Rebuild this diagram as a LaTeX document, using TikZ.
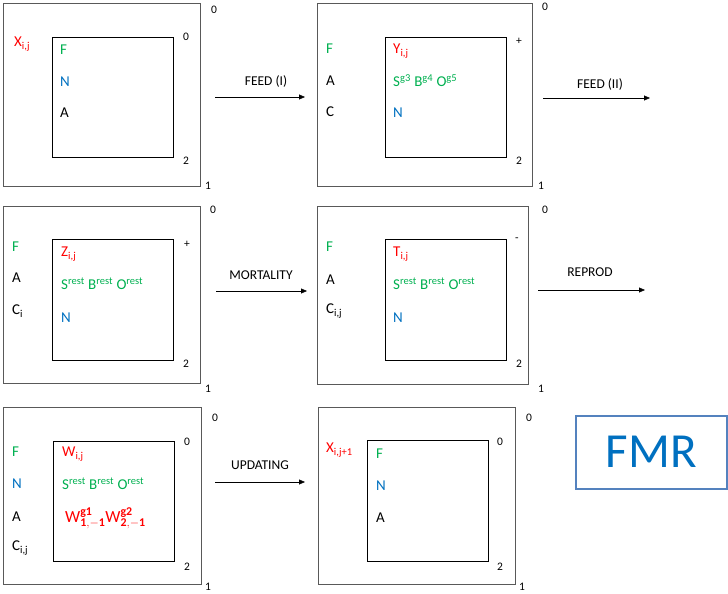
\documentclass[tikz,border=0pt]{standalone}
\usepackage{fontspec}
\setmainfont{Carlito}
\usepackage{xcolor}
\usetikzlibrary{positioning,arrows.meta}

\definecolor{fred}{HTML}{FF0000}
\definecolor{fgreen}{HTML}{00B050}
\definecolor{fblue}{HTML}{0070C0}
\definecolor{fmrline}{RGB}{84,130,190}

\begin{document}
\begin{tikzpicture}[
  x=1pt, y=-1pt,
  >={Triangle[length=6pt,width=5pt]},
  outerbox/.style={rectangle, draw=black!65, line width=1.2pt, anchor=north west, inner sep=0pt},
  innerbox/.style={rectangle, draw=black, line width=0.9pt, anchor=north west, inner sep=0pt},
  txt/.style={anchor=west, inner sep=0pt, font=\fontsize{15}{17}\selectfont},
  num/.style={anchor=center, inner sep=0pt, font=\fontsize{11.5}{13}\selectfont},
  lbl/.style={anchor=center, inner sep=0pt, font=\fontsize{13.5}{15}\selectfont},
]
\useasboundingbox (0,0) rectangle (728,594);

% row 1
\node[outerbox, minimum width=197, minimum height=183] (o1) at (3,3) {};
\node[innerbox, minimum width=121, minimum height=120] (i1) at (52,37) {};
\node[num] (o1t) at (214,10) {0};
\node[num] (i1t) at (186,37) {0};
\node[num] (i1b) at (186,161) {2};
\node[num] (o1b) at (208,186) {1};
\node[txt, text=fred] (x1) at (14,44) {X\textsubscript{i,j}};
\node[txt, text=fgreen] (f1) at (60,50) {F};
\node[txt, text=fblue] (n1) at (60,82) {N};
\node[txt] (a1) at (60,113) {A};

\node[outerbox, minimum width=215, minimum height=183] (o2) at (317,3) {};
\node[innerbox, minimum width=121, minimum height=120] (i2) at (385,37) {};
\node[num] (o2t) at (545,7) {0};
\node[num] (i2t) at (519,41) {+};
\node[num] (i2b) at (519,161) {2};
\node[num] (o2b) at (541,186) {1};
\node[txt, text=fgreen] (f2) at (326,49) {F};
\node[txt] (a2) at (326,81) {A};
\node[txt] (c2) at (326,112) {C};
\node[txt, text=fred] (y2) at (393,51) {Y\textsubscript{i,j}};
\node[txt, text=fgreen] (s2) at (393,81) {S\textsuperscript{g3} B\textsuperscript{g4} O\textsuperscript{g5}};
\node[txt, text=fblue] (n2) at (393,113) {N};

% row 2
\node[outerbox, minimum width=197, minimum height=177] (o3) at (3,206) {};
\node[innerbox, minimum width=121, minimum height=121] (i3) at (52,239) {};
\node[num] (o3t) at (213,210) {0};
\node[num] (i3t) at (187,244) {+};
\node[num] (i3b) at (186,364) {2};
\node[num] (o3b) at (208,389) {1};
\node[txt, text=fgreen] (f3) at (12,247) {F};
\node[txt] (a3) at (12,278) {A};
\node[txt] (c3) at (12,311) {C\textsubscript{i}};
\node[txt, text=fred] (z3) at (61,254) {Z\textsubscript{i,j}};
\node[txt, text=fgreen] (s3) at (61,284) {S\textsuperscript{rest} B\textsuperscript{rest} O\textsuperscript{rest}};
\node[txt, text=fblue] (n3) at (61,318) {N};

\node[outerbox, minimum width=211, minimum height=178] (o4) at (317,206) {};
\node[innerbox, minimum width=121, minimum height=121] (i4) at (385,239) {};
\node[num] (o4t) at (545,210) {0};
\node[num] (i4t) at (517,240) {-};
\node[num] (i4b) at (519,364) {2};
\node[num] (o4b) at (541,389) {1};
\node[txt, text=fgreen] (f4) at (326,247) {F};
\node[txt] (a4) at (326,280) {A};
\node[txt] (c4) at (326,311) {C\textsubscript{i,j}};
\node[txt, text=fred] (t4) at (393,254) {T\textsubscript{i,j}};
\node[txt, text=fgreen] (s4) at (393,284) {S\textsuperscript{rest} B\textsuperscript{rest} O\textsuperscript{rest}};
\node[txt, text=fblue] (n4) at (393,318) {N};

% row 3
\node[outerbox, minimum width=198, minimum height=177] (o5) at (3,407) {};
\node[innerbox, minimum width=121, minimum height=120] (i5) at (53,441) {};
\node[num] (o5t) at (215,418) {0};
\node[num] (i5t) at (187,442) {0};
\node[num] (i5b) at (187,567) {2};
\node[num] (o5b) at (208,587) {1};
\node[txt, text=fgreen] (f5) at (12,452) {F};
\node[txt, text=fblue] (n5) at (12,484) {N};
\node[txt] (a5) at (12,517) {A};
\node[txt] (c5) at (12,548) {C\textsubscript{i,j}};
\node[txt, text=fred] (w5) at (62,454) {W\textsubscript{i,j}};
\node[txt, text=fgreen] (s5) at (62,484) {S\textsuperscript{rest} B\textsuperscript{rest} O\textsuperscript{rest}};
\node[txt, text=fred, font=\fontsize{17}{19}\selectfont] (g5) at (65,518)
  {$\mathrm{W}^{\mathbf{g1}}_{\mathbf{1,-1}}\mathrm{W}^{\mathbf{g2}}_{\mathbf{2,-1}}$};

\node[outerbox, minimum width=197, minimum height=177] (o6) at (318,407) {};
\node[innerbox, minimum width=121, minimum height=121] (i6) at (367,440) {};
\node[num] (o6t) at (529,418) {0};
\node[num] (i6t) at (500,442) {0};
\node[num] (i6b) at (500,567) {2};
\node[num] (o6b) at (522,587) {1};
\node[txt, text=fred] (x6) at (326,450) {X\textsubscript{i,j+1}};
\node[txt, text=fgreen] (f6) at (376,454) {F};
\node[txt, text=fblue] (n6) at (376,486) {N};
\node[txt] (a6) at (376,518) {A};

\node[rectangle, draw=fmrline, line width=1.5pt, minimum width=151, minimum height=73,
  anchor=north west, text=fblue, font=\fontsize{49}{51}\selectfont] (fmr) at (575,415) {FMR};

% arrows
\coordinate (e1s) at (215,97);  \coordinate (e1e) at (305,97);
\coordinate (e2s) at (543,98);  \coordinate (e2e) at (650,98);
\coordinate (e3s) at (216,291); \coordinate (e3e) at (307,291);
\coordinate (e4s) at (538,290); \coordinate (e4e) at (645,290);
\coordinate (e5s) at (215,482); \coordinate (e5e) at (305,482);

\draw[->] (e1s) -- (e1e);
\draw[->] (e2s) -- (e2e);
\draw[->] (e3s) -- (e3e);
\draw[->] (e4s) -- (e4e);
\draw[->] (e5s) -- (e5e);

\node[lbl] (l1) at (266,81) {FEED (I)};
\node[lbl] (l2) at (600,84) {FEED (II)};
\node[lbl] (l3) at (261,275) {MORTALITY};
\node[lbl] (l4) at (590,272) {REPROD};
\node[lbl] (l5) at (260,465) {UPDATING};
\end{tikzpicture}
\end{document}
